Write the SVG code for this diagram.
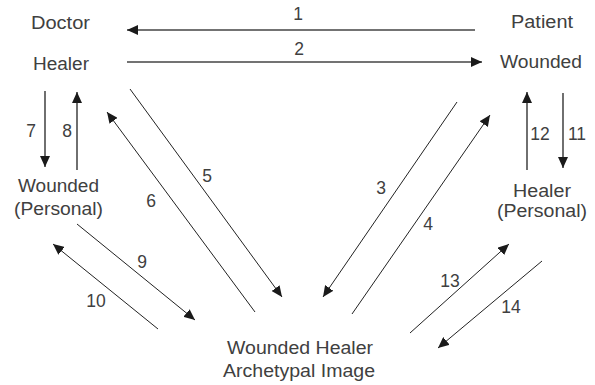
<svg xmlns="http://www.w3.org/2000/svg" width="595" height="385" viewBox="0 0 595 385">
<style>
text{font-family:"Liberation Sans","Noto Sans",sans-serif;font-size:17.5px;fill:#404040}
.lbl{text-anchor:middle}
.c line{stroke:#222;stroke-width:1;fill:none;marker-end:url(#ah)}
.c line.h{stroke:#444;stroke-width:1.6}
.c line.v{stroke-width:1.3}
</style>
<defs>
<marker id="ah" markerUnits="userSpaceOnUse" markerWidth="12" markerHeight="10" refX="11" refY="5" orient="auto">
<path d="M0,0 L11,5 L0,10 z" fill="#1a1a1a"/>
</marker>
</defs>
<rect width="595" height="385" fill="#fff"/>
<g id="doctor-healer">
<text x="31" y="29" textLength="59" lengthAdjust="spacingAndGlyphs">Doctor</text>
<text x="33" y="70" textLength="56" lengthAdjust="spacingAndGlyphs">Healer</text>
</g>
<g id="patient-wounded">
<text x="511" y="28" textLength="62" lengthAdjust="spacingAndGlyphs">Patient</text>
<text x="500" y="68" textLength="82" lengthAdjust="spacingAndGlyphs">Wounded</text>
</g>
<g id="wounded-personal">
<text x="18" y="192" textLength="81" lengthAdjust="spacingAndGlyphs">Wounded</text>
<text x="14" y="215" textLength="89" lengthAdjust="spacingAndGlyphs">(Personal)</text>
</g>
<g id="healer-personal">
<text x="513" y="197" textLength="58" lengthAdjust="spacingAndGlyphs">Healer</text>
<text x="497" y="217" textLength="90" lengthAdjust="spacingAndGlyphs">(Personal)</text>
</g>
<g id="archetype">
<text x="227" y="354" textLength="146" lengthAdjust="spacingAndGlyphs">Wounded Healer</text>
<text x="223" y="377" textLength="152" lengthAdjust="spacingAndGlyphs">Archetypal Image</text>
</g>
<g id="connectors" class="c">
<line class="h" x1="475" y1="30" x2="127" y2="30"/>
<line class="h" x1="127" y1="62" x2="482" y2="62"/>
<line x1="457" y1="102" x2="323" y2="297"/>
<line x1="352" y1="314" x2="490" y2="115"/>
<line x1="130" y1="89" x2="282" y2="297"/>
<line x1="255" y1="312" x2="107" y2="112"/>
<line class="v" x1="45" y1="91" x2="45" y2="167"/>
<line class="v" x1="77" y1="170" x2="77" y2="92"/>
<line x1="77" y1="224" x2="195" y2="320"/>
<line x1="158" y1="329" x2="53" y2="244"/>
<line class="v" x1="563" y1="93" x2="563" y2="168"/>
<line class="v" x1="527" y1="170" x2="527" y2="92"/>
<line x1="410" y1="333" x2="509" y2="244"/>
<line x1="542" y1="261" x2="438" y2="348"/>
</g>
<g id="labels">
<text class="lbl" x="298" y="20">1</text>
<text class="lbl" x="299" y="55">2</text>
<text class="lbl" x="381" y="194">3</text>
<text class="lbl" x="428" y="230">4</text>
<text class="lbl" x="207" y="182">5</text>
<text class="lbl" x="151" y="207">6</text>
<text class="lbl" x="31" y="137">7</text>
<text class="lbl" x="67" y="137">8</text>
<text class="lbl" x="142" y="268">9</text>
<text class="lbl" x="96" y="307">10</text>
<text class="lbl" x="577" y="140">11</text>
<text class="lbl" x="540" y="140">12</text>
<text class="lbl" x="450" y="287">13</text>
<text class="lbl" x="511" y="313">14</text>
</g>
</svg>
